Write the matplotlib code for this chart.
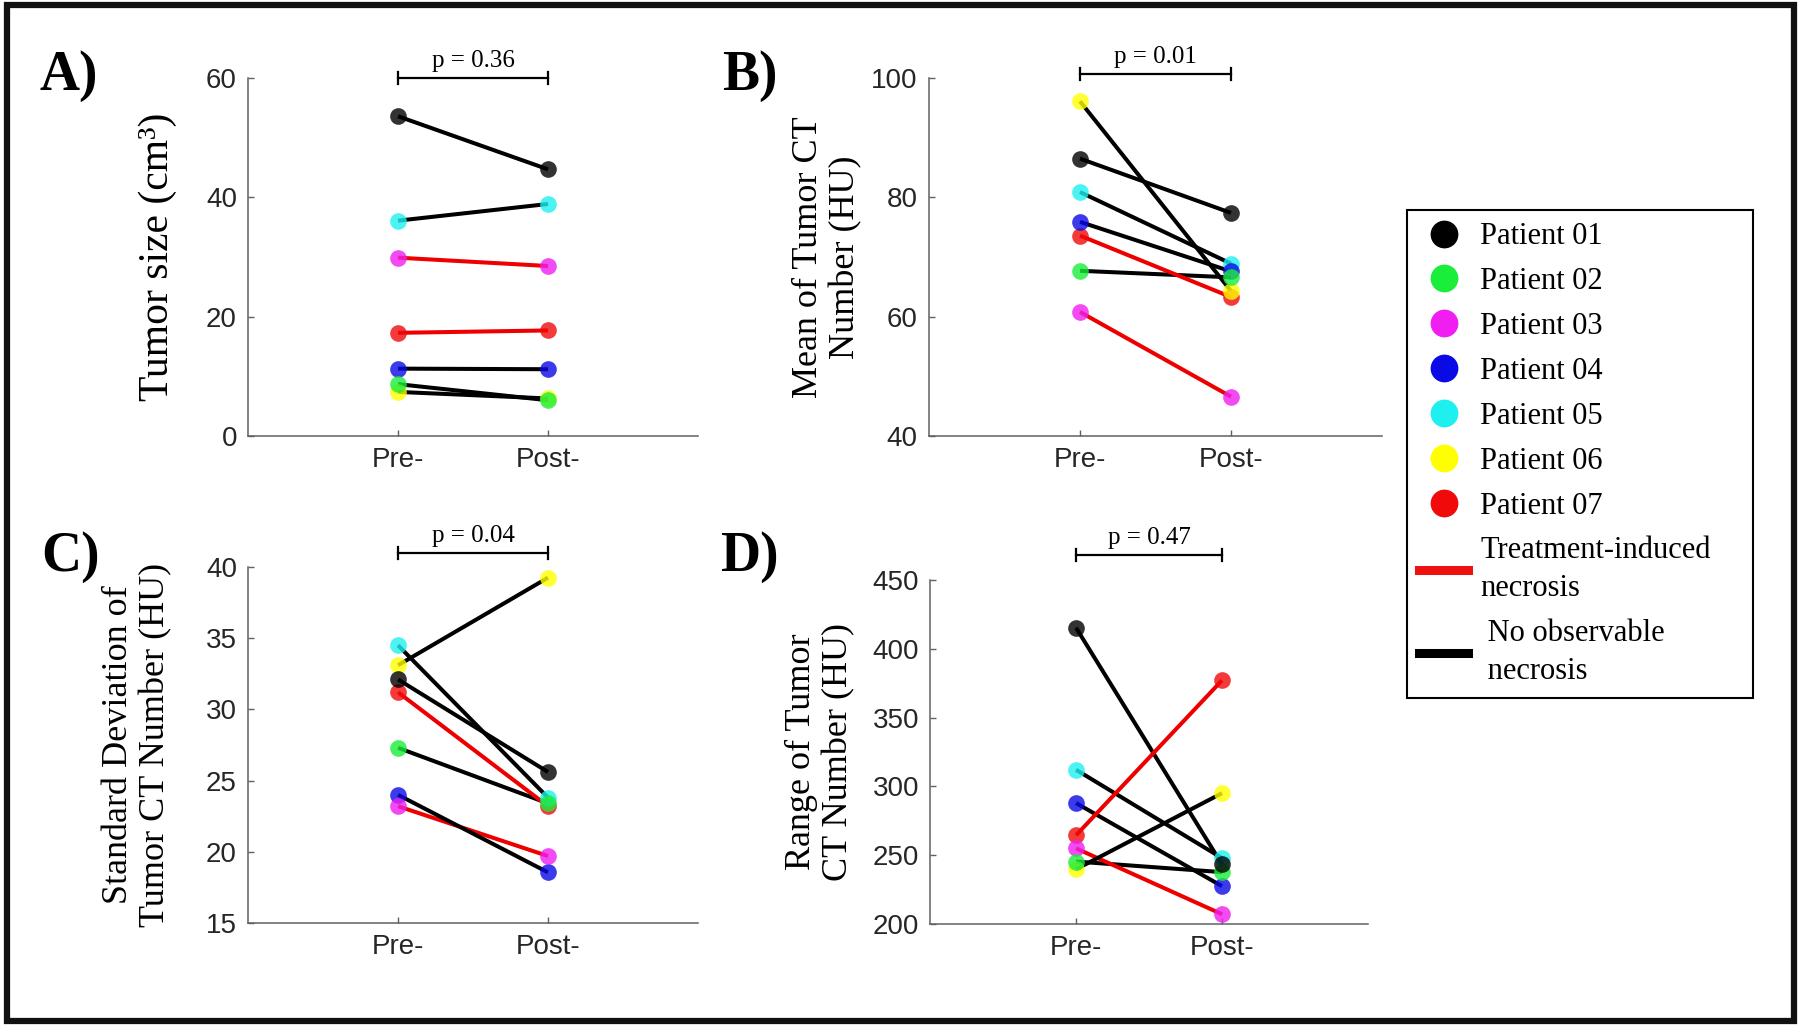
"""Pre- vs post-treatment tumour metrics for seven patients"""

import matplotlib
matplotlib.use('Agg')
import matplotlib.pyplot as plt
import matplotlib.transforms as mtransforms
from matplotlib.lines import Line2D
from matplotlib.patches import Rectangle

plt.rcParams['font.family'] = ['Liberation Serif', 'DejaVu Serif']

# patients and their colours
patients = ['Patient 01', 'Patient 02', 'Patient 03', 'Patient 04',
            'Patient 05', 'Patient 06', 'Patient 07']
patient_colors = ['#000000', '#1aee3a', '#f01ef0', '#0a0ae6',
                  '#1ef0f0', '#ffff00', '#f00a0a']
# True = treatment-induced necrosis (red line)
necrosis = [False, False, True, False, False, False, True]

stage_labels = ['Pre-', 'Post-']

# A) tumour size (cm3)
size_pre = [53.6, 8.7, 29.9, 11.3, 36.1, 7.4, 17.3]
size_post = [44.7, 6.0, 28.5, 11.2, 38.9, 6.3, 17.7]

# B) mean CT number (HU)
mean_pre = [86.5, 67.7, 60.8, 75.9, 80.9, 96.1, 73.6]
mean_post = [77.4, 66.6, 46.6, 67.6, 68.9, 64.3, 63.3]

# C) standard deviation of CT number (HU)
sd_pre = [32.1, 27.3, 23.2, 24.0, 34.5, 33.1, 31.2]
sd_post = [25.6, 23.4, 19.7, 18.55, 23.8, 39.25, 23.2]

# D) range of CT number (HU)
range_pre = [415.3, 245.4, 255.0, 287.9, 312.1, 239.8, 264.5]
range_post = [243.3, 237.7, 207.1, 227.5, 247.9, 295.1, 377.1]

yticks_size = [0, 20, 40, 60]
yticks_mean = [40, 60, 80, 100]
yticks_sd = [15, 20, 25, 30, 35, 40]
yticks_range = [200, 250, 300, 350, 400, 450]

p_values = ['p = 0.36', 'p = 0.01', 'p = 0.04', 'p = 0.47']


def draw_panel(ax, pre, post, yticks, ylabel, ptext, bracket_y, label_x,
               label_size=26):
    """ one pre/post panel """
    # connecting lines first
    for i in range(len(patients)):
        line_color = '#ee0000' if necrosis[i] else '#000000'
        ax.plot([1, 2], [pre[i], post[i]], color=line_color, lw=2.9,
                zorder=2, solid_capstyle='butt')
    # markers on top
    for i in reversed(range(len(patients))):
        ax.plot([1, 2], [pre[i], post[i]], ls='none', marker='o', ms=12,
                mfc=patient_colors[i], mec='none', alpha=0.8, zorder=3)

    ax.set_xlim(0, 3)
    ax.set_ylim(yticks[0], yticks[-1])
    ax.set_xticks([1, 2], stage_labels)
    ax.set_yticks(yticks)

    for side in ['top', 'right']:
        ax.spines[side].set_visible(False)
    for side in ['left', 'bottom']:
        ax.spines[side].set_color('#606060')
        ax.spines[side].set_linewidth(1.1)
    ax.tick_params(direction='in', length=4, width=1, colors='#606060',
                   labelcolor='#262626', labelsize=20)
    ax.tick_params(axis='x', pad=8)
    ax.tick_params(axis='y', pad=8)
    for lab in ax.get_xticklabels() + ax.get_yticklabels():
        lab.set_fontfamily('Liberation Sans')

    ax.set_ylabel(ylabel, fontsize=label_size, linespacing=1.15)
    ax.yaxis.set_label_coords(label_x, 0.5)

    # significance bracket above the axes
    trans = mtransforms.blended_transform_factory(ax.transData, ax.transAxes)
    cap = 0.017
    ax.plot([1, 2], [bracket_y, bracket_y], transform=trans, color='k',
            lw=1.6, clip_on=False)
    for xc in [1, 2]:
        ax.plot([xc, xc], [bracket_y - cap, bracket_y + cap], transform=trans,
                color='k', lw=1.6, clip_on=False)
    ax.annotate(ptext, xy=(1.5, bracket_y), xycoords=trans, xytext=(0, 12),
                textcoords='offset points', ha='center', va='center',
                fontsize=18)


def main():
    fig = plt.figure(figsize=(18, 10.26), dpi=100)

    ax_a = fig.add_axes([0.1378, 0.5750, 0.2500, 0.3489])
    ax_b = fig.add_axes([0.5161, 0.5750, 0.2517, 0.3489])
    ax_c = fig.add_axes([0.1378, 0.1004, 0.2500, 0.3470])
    ax_d = fig.add_axes([0.5167, 0.0994, 0.2433, 0.3353])

    draw_panel(ax_a, size_pre, size_post, yticks_size, 'Tumor size (cm³)',
               p_values[0], 1.0, -0.158, label_size=30)
    draw_panel(ax_b, mean_pre, mean_post, yticks_mean,
               'Mean of Tumor CT\nNumber (HU)', p_values[1], 1.011, -0.148)
    draw_panel(ax_c, sd_pre, sd_post, yticks_sd,
               'Standard Deviation of\nTumor CT Number (HU)', p_values[2],
               1.039, -0.169)
    draw_panel(ax_d, range_pre, range_post, yticks_range,
               'Range of Tumor\nCT Number (HU)', p_values[3], 1.073, -0.171)

    # panel letters
    for txt, x, y in [('A)', 0.0222, 0.912), ('B)', 0.401, 0.912),
                      ('C)', 0.0228, 0.444), ('D)', 0.400, 0.444)]:
        fig.text(x, y, txt, fontsize=40, fontweight='bold', va='baseline')

    # legend
    handles = [Line2D([], [], ls='none', marker='o', ms=20, mfc=c, mec='none')
               for c in patient_colors]
    handles.append(Line2D([], [], color='#ee1111', lw=6.5))
    handles.append(Line2D([], [], color='#000000', lw=6.5))
    labels = patients + ['Treatment-induced\nnecrosis', ' No observable\n necrosis']
    leg = fig.legend(handles, labels, loc='upper left',
                     bbox_to_anchor=(0.7817, 1 - 210 / 1026, 0.1922, 0),
                     mode='expand', fancybox=False, framealpha=1,
                     edgecolor='k', fontsize=22, borderpad=0.4,
                     labelspacing=0.52, handlelength=1.6, handletextpad=0.4,
                     borderaxespad=0)
    leg.get_frame().set_linewidth(1.5)
    for t in leg.get_texts():
        t.set_linespacing(1.4)

    # outer frame round the whole figure
    fig.patches.append(Rectangle((7 / 1800, 5 / 1026), 1787 / 1800, 1016 / 1026,
                                 transform=fig.transFigure, fill=False,
                                 lw=4.5, ec='#111111'))

    fig.savefig('out.png', dpi=100)


if __name__ == "__main__":
    main()
